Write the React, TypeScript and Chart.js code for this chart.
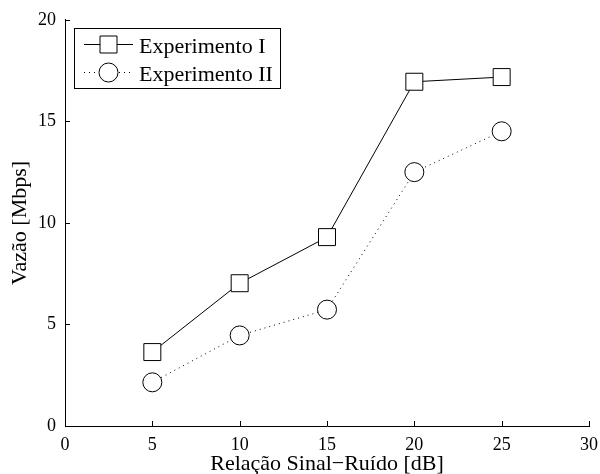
import React, { useEffect, useRef } from "react";
import { Chart, registerables } from "chart.js";

Chart.register(...registerables);

const snr = [5, 10, 15, 20, 25];
const experimento1 = [3.64, 7.03, 9.3, 16.95, 17.18];
const experimento2 = [2.15, 4.46, 5.73, 12.5, 14.51];
const xTicks = [0, 5, 10, 15, 20, 25, 30];
const yTicks = [0, 5, 10, 15, 20];
const seriesNames = ["Experimento I", "Experimento II"];
const xTitle = "Relação Sinal\u2212Ruído [dB]";
const yTitle = "Vazão [Mbps]";

const FONT = "'Liberation Serif', 'DejaVu Serif', serif";

const tickPlugin = {
  id: "inwardTicks",
  afterDraw(chart: any) {
    const { ctx, chartArea, scales } = chart;
    ctx.save();
    ctx.strokeStyle = "#000";
    ctx.lineWidth = 1;
    ctx.beginPath();
    xTicks.forEach((v) => {
      const px = Math.round(scales.x.getPixelForValue(v)) + 0.5;
      ctx.moveTo(px, chartArea.bottom);
      ctx.lineTo(px, chartArea.bottom - 5);
    });
    yTicks.forEach((v) => {
      const py = Math.round(scales.y.getPixelForValue(v)) + 0.5;
      ctx.moveTo(chartArea.left, py);
      ctx.lineTo(chartArea.left + 5, py);
    });
    ctx.stroke();
    ctx.restore();
  },
};

const legendPlugin = {
  id: "boxLegend",
  afterDraw(chart: any) {
    const { ctx } = chart;
    const bx = 74.5, by = 28.5, bw = 206, bh = 60;
    ctx.save();
    ctx.fillStyle = "#fff";
    ctx.fillRect(bx, by, bw, bh);
    ctx.strokeStyle = "#000";
    ctx.lineWidth = 1;
    ctx.strokeRect(bx, by, bw, bh);
    const rows = [44.5, 72.5];
    rows.forEach((ry, i) => {
      ctx.beginPath();
      ctx.setLineDash(i === 0 ? [] : [1, 4]);
      ctx.moveTo(84, ry);
      ctx.lineTo(133, ry);
      ctx.stroke();
      ctx.setLineDash([]);
      ctx.fillStyle = "#fff";
      ctx.beginPath();
      if (i === 0) {
        ctx.rect(100, ry - 8.5, 17, 17);
      } else {
        ctx.arc(108.5, ry, 9.5, 0, Math.PI * 2);
      }
      ctx.fill();
      ctx.stroke();
      ctx.fillStyle = "#000";
      ctx.font = `22px ${FONT}`;
      ctx.textBaseline = "alphabetic";
      ctx.textAlign = "left";
      ctx.fillText(seriesNames[i], 139, ry + 8);
    });
    ctx.restore();
  },
};

export default function App() {
  const ref = useRef<HTMLCanvasElement | null>(null);
  useEffect(() => {
    if (!ref.current) return;
    const chart = new Chart(ref.current, {
      type: "line",
      data: {
        datasets: [
          {
            label: seriesNames[0],
            data: snr.map((x, i) => ({ x, y: experimento1[i] })),
            borderColor: "#000",
            borderWidth: 1,
            pointStyle: "rect",
            pointRadius: 12,
            pointBorderWidth: 1,
            pointBorderColor: "#000",
            pointBackgroundColor: "#fff",
            tension: 0,
          },
          {
            label: seriesNames[1],
            data: snr.map((x, i) => ({ x, y: experimento2[i] })),
            borderColor: "#000",
            borderWidth: 1,
            borderDash: [1, 4],
            pointStyle: "circle",
            pointRadius: 9.5,
            pointBorderWidth: 1,
            pointBorderColor: "#000",
            pointBackgroundColor: "#fff",
            tension: 0,
          },
        ],
      },
      options: {
        animation: false,
        responsive: true,
        maintainAspectRatio: false,
        layout: { padding: { left: 0, right: 0, top: 19, bottom: 0 } },
        plugins: { legend: { display: false }, tooltip: { enabled: false } },
        scales: {
          x: {
            type: "linear",
            min: 0,
            max: 30,
            afterBuildTicks: (s: any) => {
              s.ticks = xTicks.map((v) => ({ value: v }));
            },
            afterFit: (s: any) => {
              s.height = 48;
            },
            grid: { display: false, drawTicks: false },
            border: { display: true, color: "#000", width: 1 },
            ticks: {
              color: "#000",
              font: { family: FONT, size: 18 },
              padding: 8,
              maxRotation: 0,
            },
            title: {
              display: true,
              text: xTitle,
              color: "#000",
              font: { family: FONT, size: 22, lineHeight: 1 },
              padding: { top: 0, bottom: -1 },
            },
          },
          y: {
            type: "linear",
            min: 0,
            max: 20,
            afterBuildTicks: (s: any) => {
              s.ticks = yTicks.map((v) => ({ value: v }));
            },
            afterFit: (s: any) => {
              s.width = 65;
            },
            grid: { display: false, drawTicks: false },
            border: { display: true, color: "#000", width: 1 },
            ticks: {
              color: "#000",
              font: { family: FONT, size: 18 },
              padding: 9,
            },
            title: {
              display: true,
              text: yTitle,
              color: "#000",
              font: { family: FONT, size: 22, lineHeight: 1 },
              padding: { top: 9, bottom: 0 },
            },
          },
        },
      },
      plugins: [tickPlugin, legendPlugin],
    });
    return () => chart.destroy();
  }, []);
  return (
    <div style={{ position: "fixed", left: 0, top: 0, width: 600, height: 474, overflow: "hidden", background: "#fff" }}>
      <div style={{ position: "relative", width: 606, height: 474 }}>
        <canvas ref={ref} />
      </div>
    </div>
  );
}
